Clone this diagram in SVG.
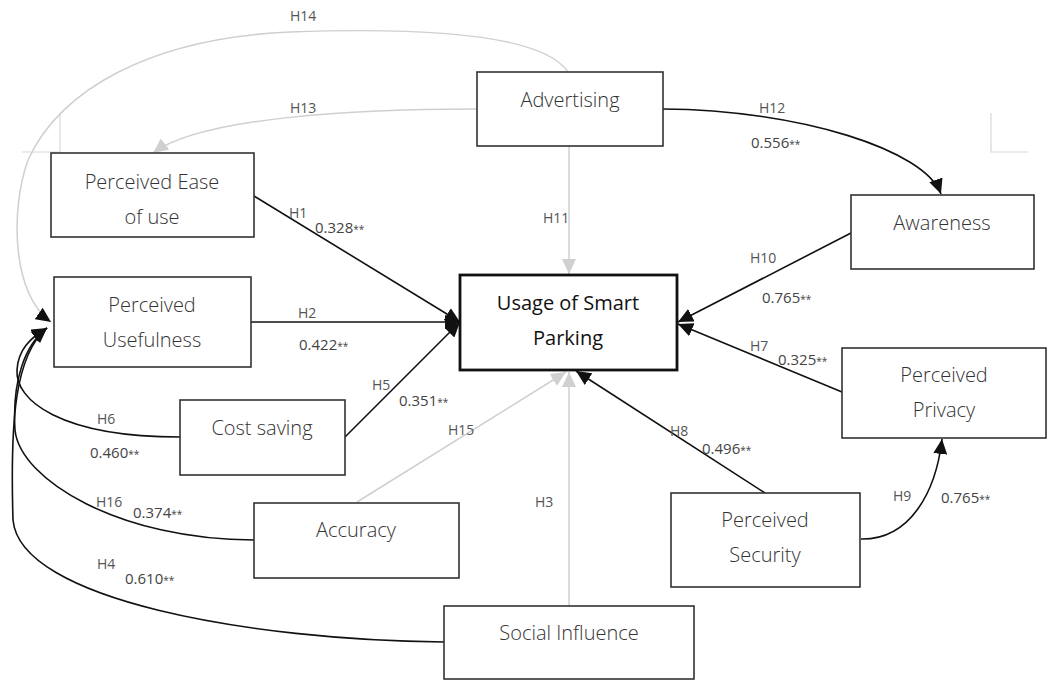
<svg xmlns="http://www.w3.org/2000/svg" width="1048" height="681" viewBox="0 0 1048 681">
<style>
.box{fill:#fff;stroke:#333;stroke-width:1.6}
.main{fill:#fff;stroke:#111;stroke-width:2.8}
.nt{font-family:"Open Sans","Liberation Sans",sans-serif;font-weight:300;font-size:20px;fill:#333;text-anchor:middle}
.mt{font-family:"Open Sans","Liberation Sans",sans-serif;font-weight:400;font-size:20px;fill:#111;text-anchor:middle}
.lb{font-family:"Open Sans","Liberation Sans",sans-serif;font-size:14px;fill:#555}
.vl{font-family:"Open Sans","Liberation Sans",sans-serif;font-size:15px;fill:#444}
.st{font-size:10px}
.bk{fill:none;stroke:#111;stroke-width:1.6}
.gr{fill:none;stroke:#cfcfcf;stroke-width:1.5}
.mark{fill:none;stroke:#d8d8d8;stroke-width:1.2}
</style>
<defs>
<marker id="ab" markerUnits="userSpaceOnUse" markerWidth="16" markerHeight="14" refX="15" refY="7" orient="auto"><path d="M0,0 L15,7 L0,14 Z" fill="#111"/></marker>
<marker id="ag" markerUnits="userSpaceOnUse" markerWidth="16" markerHeight="14" refX="15" refY="7" orient="auto"><path d="M0,0 L15,7 L0,14 Z" fill="#d0d0d0"/></marker>
</defs>
<rect width="1048" height="681" fill="#fff"/>
<g id="corner-marks">
<path class="mark" d="M60,113 V152 H22"/>
<path class="mark" d="M991,113 V152 H1028"/>
</g>
<g id="connectors">
<path class="gr" d="M568,72 C540,30 400,28 290,32 C150,38 60,90 28,160 C10,210 12,295 51,322" marker-end="url(#ab)"/>
<path class="gr" d="M477,109 C350,109 200,118 153,153" marker-end="url(#ag)"/>
<path class="bk" d="M663,109 C800,110 925,150 941,194" marker-end="url(#ab)"/>
<path class="gr" d="M569,146 V274" marker-end="url(#ag)"/>
<path class="bk" d="M254,196 L460,322" marker-end="url(#ab)"/>
<path class="bk" d="M251,322 H460" marker-end="url(#ab)"/>
<path class="bk" d="M345,437 L460,322" marker-end="url(#ab)"/>
<path class="gr" d="M357,502 L566,372" marker-end="url(#ag)"/>
<path class="gr" d="M569,606 V372" marker-end="url(#ag)"/>
<path class="bk" d="M765,493 L576,371" marker-end="url(#ab)"/>
<path class="bk" d="M851,233 L678,322" marker-end="url(#ab)"/>
<path class="bk" d="M842,392 L678,324" marker-end="url(#ab)"/>
<path class="bk" d="M861,539 C910,540 936,492 942,439" marker-end="url(#ab)"/>
<path class="bk" d="M180,437 C60,437 15,400 17,370 C18,350 30,338 47,328" marker-end="url(#ab)"/>
<path class="bk" d="M254,540 C120,540 20,480 15,430 C12,380 25,345 47,328" marker-end="url(#ab)"/>
<path class="bk" d="M444,642 C250,640 20,600 13,520 C10,420 15,355 47,328" marker-end="url(#ab)"/>
</g>
<g id="labels">
<text class="lb" x="290" y="21">H14</text>
<text class="lb" x="290" y="113">H13</text>
<text class="lb" x="759" y="113">H12</text>
<text class="vl" x="751" y="148">0.556<tspan class="st">**</tspan></text>
<text class="lb" x="543" y="223">H11</text>
<text class="lb" x="289" y="218">H1</text>
<text class="vl" x="315" y="233">0.328<tspan class="st">**</tspan></text>
<text class="lb" x="750" y="263">H10</text>
<text class="vl" x="762" y="303">0.765<tspan class="st">**</tspan></text>
<text class="lb" x="298" y="318">H2</text>
<text class="vl" x="299" y="350">0.422<tspan class="st">**</tspan></text>
<text class="lb" x="750" y="351">H7</text>
<text class="vl" x="778" y="365">0.325<tspan class="st">**</tspan></text>
<text class="lb" x="372" y="390">H5</text>
<text class="vl" x="399" y="406">0.351<tspan class="st">**</tspan></text>
<text class="lb" x="448" y="435">H15</text>
<text class="lb" x="97" y="424">H6</text>
<text class="vl" x="90" y="458">0.460<tspan class="st">**</tspan></text>
<text class="lb" x="670" y="436">H8</text>
<text class="vl" x="702" y="454">0.496<tspan class="st">**</tspan></text>
<text class="lb" x="535" y="507">H3</text>
<text class="lb" x="893" y="501">H9</text>
<text class="vl" x="941" y="503">0.765<tspan class="st">**</tspan></text>
<text class="lb" x="96" y="507">H16</text>
<text class="vl" x="133" y="518">0.374<tspan class="st">**</tspan></text>
<text class="lb" x="97" y="569">H4</text>
<text class="vl" x="125" y="584">0.610<tspan class="st">**</tspan></text>
</g>
<g id="advertising"><rect class="box" x="477" y="72" width="186" height="74"/><text class="nt" x="570" y="107">Advertising</text></g>
<g id="perceived-ease"><rect class="box" x="51" y="153" width="203" height="84"/><text class="nt" x="152" y="189">Perceived Ease</text><text class="nt" x="152" y="224">of use</text></g>
<g id="awareness"><rect class="box" x="851" y="195" width="183" height="74"/><text class="nt" x="942" y="230">Awareness</text></g>
<g id="usage"><rect class="main" x="460" y="275" width="217" height="95"/><text class="mt" x="568" y="310">Usage of Smart</text><text class="mt" x="568" y="345">Parking</text></g>
<g id="perceived-usefulness"><rect class="box" x="54" y="277" width="197" height="90"/><text class="nt" x="152" y="312">Perceived</text><text class="nt" x="152" y="347">Usefulness</text></g>
<g id="cost-saving"><rect class="box" x="180" y="400" width="165" height="75"/><text class="nt" x="262" y="435">Cost saving</text></g>
<g id="accuracy"><rect class="box" x="254" y="503" width="205" height="75"/><text class="nt" x="356" y="537">Accuracy</text></g>
<g id="social-influence"><rect class="box" x="444" y="606" width="250" height="73"/><text class="nt" x="569" y="640">Social Influence</text></g>
<g id="perceived-privacy"><rect class="box" x="842" y="348" width="204" height="90"/><text class="nt" x="944" y="382">Perceived</text><text class="nt" x="944" y="417">Privacy</text></g>
<g id="perceived-security"><rect class="box" x="671" y="493" width="189" height="94"/><text class="nt" x="765" y="527">Perceived</text><text class="nt" x="765" y="562">Security</text></g>
</svg>
